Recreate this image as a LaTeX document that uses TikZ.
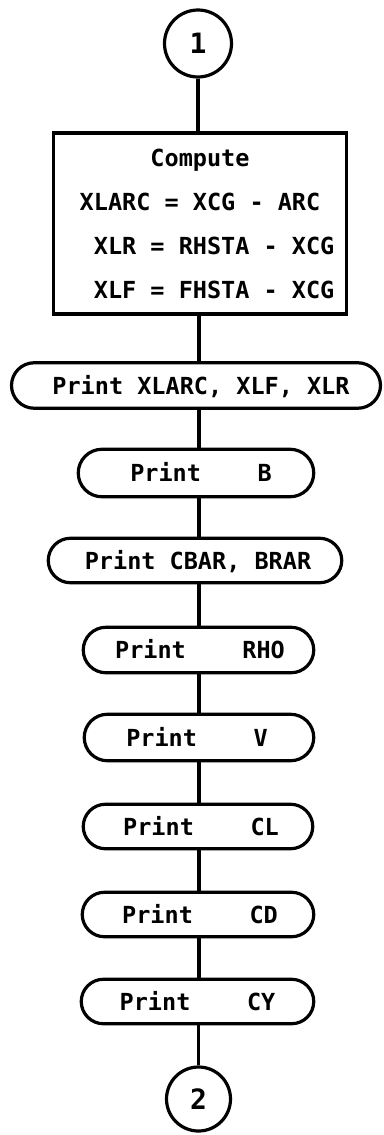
\documentclass[tikz,border=0pt]{standalone}
\usepackage{fontspec}
\newfontfamily\monofont{DejaVu Sans Mono}[BoldFont={DejaVu Sans Mono Bold}]
\usetikzlibrary{shapes.misc}
\newcommand\gap[1]{\hspace*{#1\fontcharwd\font`X}}
\begin{document}
\begin{tikzpicture}[x=1pt,y=-1pt,line width=3.2pt,
  txt/.style={font=\monofont\bfseries\fontsize{23.5}{44}\selectfont},
  connector/.style={draw,circle,inner sep=0pt,font=\monofont\bfseries\fontsize{28}{32}\selectfont},
  compbox/.style={draw,rectangle,txt,inner sep=0pt,align=center},
  printbox/.style={draw,rounded rectangle,txt,inner sep=0pt,text height=17pt,text depth=0pt},
  link/.style={line width=3.2pt}]
\useasboundingbox (0,0) rectangle (383,1135);
\node[connector,minimum size=67pt] (c1) at (198,43.5) {1};
\node[compbox,minimum width=293pt,minimum height=181pt] (comp) at (200,223.5)
  {Compute\\XLARC = XCG - ARC\gap{2}\\\gap{2}XLR = RHSTA - XCG\\\gap{2}XLF = FHSTA - XCG};
\node[printbox,minimum width=369pt,minimum height=45.5pt] (p1) at (196,385.5) {\hspace*{10pt}Print XLARC, XLF, XLR};
\node[printbox,minimum width=235.5pt,minimum height=47.5pt] (pB) at (196,473) {\hspace*{10pt}Print\gap{4}B};
\node[printbox,minimum width=293.5pt,minimum height=44.5pt] (pCBAR) at (195,560.5) {\hspace*{6pt}Print CBAR, BRAR};
\node[printbox,minimum width=230.5pt,minimum height=45.5pt] (pRHO) at (198.5,650) {\hspace*{3pt}Print\gap{4}RHO};
\node[printbox,minimum width=229.5pt,minimum height=46.5pt] (pV) at (199,737.5) {Print\gap{4}V\hspace*{4pt}};
\node[printbox,minimum width=229.5pt,minimum height=44.5pt] (pCL) at (198,826.5) {\hspace*{6pt}Print\gap{4}CL};
\node[printbox,minimum width=231.5pt,minimum height=44.5pt] (pCD) at (198,914.5) {\hspace*{4pt}Print\gap{4}CD};
\node[printbox,minimum width=232.5pt,minimum height=44.5pt] (pCY) at (197.5,1001.5) {Print\gap{4}CY};
\node[connector,minimum size=64pt] (c2) at (198.5,1099) {2};
\coordinate (spine) at (199,0);
\draw[link] (c1.south) -- (c1.south |- comp.north);
\draw[link] (comp.south -| spine) -- (p1.north -| spine);
\draw[link] (p1.south -| spine) -- (pB.north -| spine);
\draw[link] (pB.south -| spine) -- (pCBAR.north -| spine);
\draw[link] (pCBAR.south -| spine) -- (pRHO.north -| spine);
\draw[link] (pRHO.south -| spine) -- (pV.north -| spine);
\draw[link] (pV.south -| spine) -- (pCL.north -| spine);
\draw[link] (pCL.south -| spine) -- (pCD.north -| spine);
\draw[link] (pCD.south -| spine) -- (pCY.north -| spine);
\draw[link] (pCY.south -| c2) -- (c2.north);
\end{tikzpicture}
\end{document}
